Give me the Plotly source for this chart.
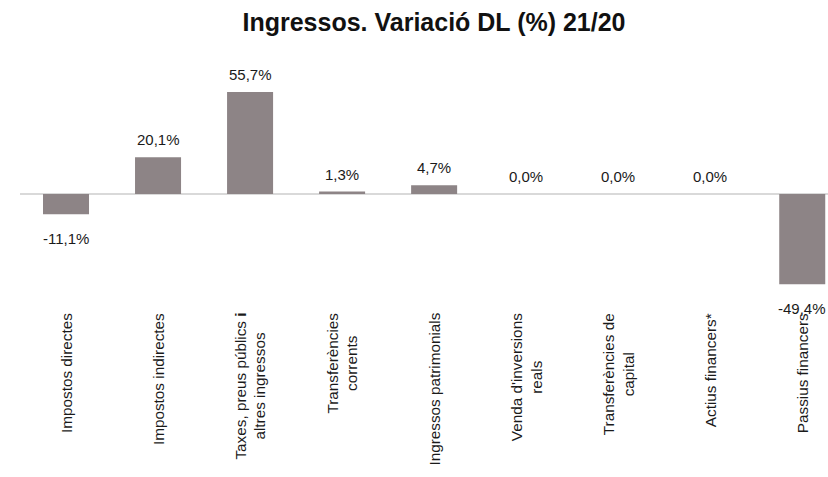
import plotly.graph_objects as go

categories = [
    "Impostos directes",
    "Impostos indirectes",
    "Taxes, preus públics <b>i</b><br>altres ingressos",
    "Transferències<br>corrents",
    "Ingressos patrimonials",
    "Venda d'inversions<br>reals",
    "Transferències de<br>capital",
    "Actius financers*",
    "Passius financers",
]
values = [-11.1, 20.1, 55.7, 1.3, 4.7, 0.0, 0.0, 0.0, -49.4]
value_labels = ["-11,1%", "20,1%", "55,7%", "1,3%", "4,7%", "0,0%", "0,0%", "0,0%", "-49,4%"]

FONT = "Liberation Sans, Arial, sans-serif"
xs = list(range(len(categories)))

fig = go.Figure()
fig.add_trace(go.Bar(
    x=xs, y=values, width=0.5,
    marker=dict(color="#8d8486", line=dict(width=0)),
    hoverinfo="skip",
))

annotations = []
for x, v, lab in zip(xs, values, value_labels):
    neg = v < 0
    annotations.append(dict(
        x=x, y=v, xref="x", yref="y", text=lab, showarrow=False,
        yanchor="top" if neg else "bottom",
        yshift=-14 if neg else 7,
        font=dict(family=FONT, size=15, color="#1a1a1a"),
    ))
for x, c in zip(xs, categories):
    annotations.append(dict(
        x=x, y=0, xref="x", yref="paper", text=c, showarrow=False,
        textangle=-90, xanchor="center", yanchor="top", yshift=-6,
        align="center",
        font=dict(family=FONT, size=15.3, color="#1a1a1a"),
    ))

fig.update_layout(
    width=828, height=477,
    margin=dict(l=20, r=0, t=60, b=172),
    paper_bgcolor="white", plot_bgcolor="white",
    showlegend=False,
    title=dict(text="<b>Ingressos. Variació DL (%) 21/20</b>",
               x=434 / 828, xanchor="center", y=1 - 22 / 477, yanchor="middle",
               font=dict(family=FONT, size=25, color="#111111")),
    xaxis=dict(range=[-0.5, 8.28], showticklabels=False, showgrid=False,
               zeroline=False, showline=False, ticks=""),
    yaxis=dict(range=[-60.7, 73.2], showticklabels=False, showgrid=False,
               zeroline=True, zerolinecolor="#d9d9d9", zerolinewidth=2,
               showline=False, ticks=""),
    annotations=annotations,
)

fig.write_html("out.html", config={"displayModeBar": False},
               post_script="document.body.style.margin='0';")
